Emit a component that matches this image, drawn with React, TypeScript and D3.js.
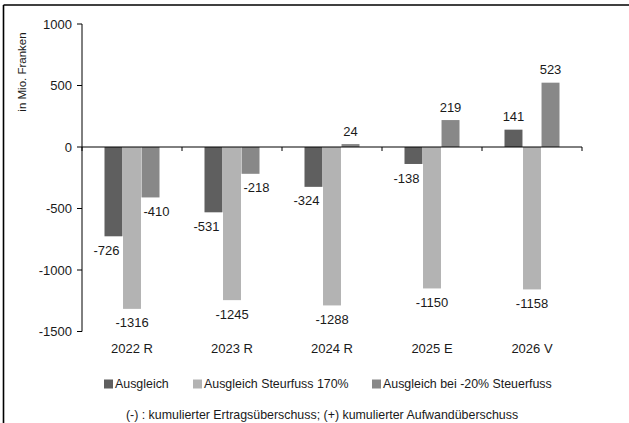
import React from "react";
import * as d3 from "d3";

const categories = ["2022 R", "2023 R", "2024 R", "2025 E", "2026 V"];
const seriesNames = ["Ausgleich", "Ausgleich Steurfuss 170%", "Ausgleich bei -20% Steuerfuss"];
const ausgleich = [-726, -531, -324, -138, 141];
const steuerfuss170 = [-1316, -1245, -1288, -1150, -1158];
const minus20 = [-410, -218, 24, 219, 523];
const yTicks = [1000, 500, 0, -500, -1000, -1500];
const colors = ["#5f5f5f", "#b3b3b3", "#888888"];
const yTitle = "in Mio. Franken";
const footnote = "(-) : kumulierter Ertragsüberschuss; (+) kumulierter Aufwandüberschuss";

const W = 629;
const H = 423;
const FONT = "'Liberation Sans', Arial, sans-serif";

export default function App() {
  const series = [ausgleich, steuerfuss170, minus20];
  const y = d3.scaleLinear().domain([-1500, 1000]).range([331.5, 24]);
  const x0 = d3.scaleBand<string>().domain(categories).range([82, 582]).paddingInner(0.45).paddingOuter(0.225);
  const x1 = d3.scaleBand<number>().domain([0, 1, 2]).range([0, x0.bandwidth()]).paddingInner(0.03);
  const step = x0.step();
  const left = 82;
  const right = 582;
  const labelDx = [-7, 0, 6];
  const legendX = [104, 193, 372];
  const textFill = "#1a1a1a";

  return (
    <div style={{ position: "fixed", left: 0, top: 0, width: W, height: H, background: "#fff" }}>
      <svg width={W} height={H} style={{ display: "block" }} fontFamily={FONT}>
        {/* frame */}
        <line x1={3.5} x2={W} y1={5} y2={5} stroke="#000" strokeWidth={1.6} />
        <line x1={3.5} x2={3.5} y1={5} y2={H} stroke="#000" strokeWidth={1.6} />

        {/* bars */}
        {categories.map((c, i) => (
          <g key={c}>
            {series.map((s, k) => {
              const v = s[i];
              const bx = (x0(c) as number) + (x1(k) as number);
              const bw = x1.bandwidth();
              const top = Math.min(y(v), y(0));
              const h = Math.abs(y(v) - y(0));
              const cx = bx + bw / 2 + (v < 0 ? labelDx[k] : 0);
              const ly = v < 0 ? y(v) + 14 : y(v) - 13;
              return (
                <g key={k}>
                  <rect x={bx} y={top} width={bw} height={h} fill={colors[k]} />
                  <text x={cx} y={ly} dy="0.35em" textAnchor="middle" fontSize={13} fill={textFill}>
                    {v}
                  </text>
                </g>
              );
            })}
          </g>
        ))}

        {/* y axis */}
        <line x1={left} x2={left} y1={y(1000)} y2={y(-1500)} stroke="#000" strokeWidth={1} />
        {yTicks.map((t) => (
          <g key={t}>
            <line x1={left - 5} x2={left} y1={y(t)} y2={y(t)} stroke="#000" />
            <text x={left - 10} y={y(t)} dy="0.35em" textAnchor="end" fontSize={13} fill={textFill}>
              {t}
            </text>
          </g>
        ))}

        {/* x axis at zero */}
        <line x1={left} x2={right} y1={y(0)} y2={y(0)} stroke="#000" strokeWidth={1} />
        {d3.range(categories.length + 1).map((i) => (
          <line key={i} x1={left + i * step} x2={left + i * step} y1={y(0)} y2={y(0) + 4} stroke="#000" />
        ))}
        {categories.map((c) => (
          <text key={c} x={(x0(c) as number) + x0.bandwidth() / 2} y={348} dy="0.35em" textAnchor="middle" fontSize={13} fill={textFill}>
            {c}
          </text>
        ))}

        {/* y title */}
        <text transform={`translate(22,72) rotate(-90)`} textAnchor="middle" dy="0.35em" fontSize={11.5} fill={textFill}>
          {yTitle}
        </text>

        {/* legend */}
        {seriesNames.map((n, k) => (
          <g key={n}>
            <rect x={legendX[k]} y={379.5} width={9} height={9} fill={colors[k]} />
            <text x={legendX[k] + 11} y={384} dy="0.35em" fontSize={12.4} fill={textFill}>
              {n}
            </text>
          </g>
        ))}

        {/* footnote */}
        <text x={322} y={415} dy="0.35em" textAnchor="middle" fontSize={12.4} fill={textFill}>
          {footnote}
        </text>
      </svg>
    </div>
  );
}
